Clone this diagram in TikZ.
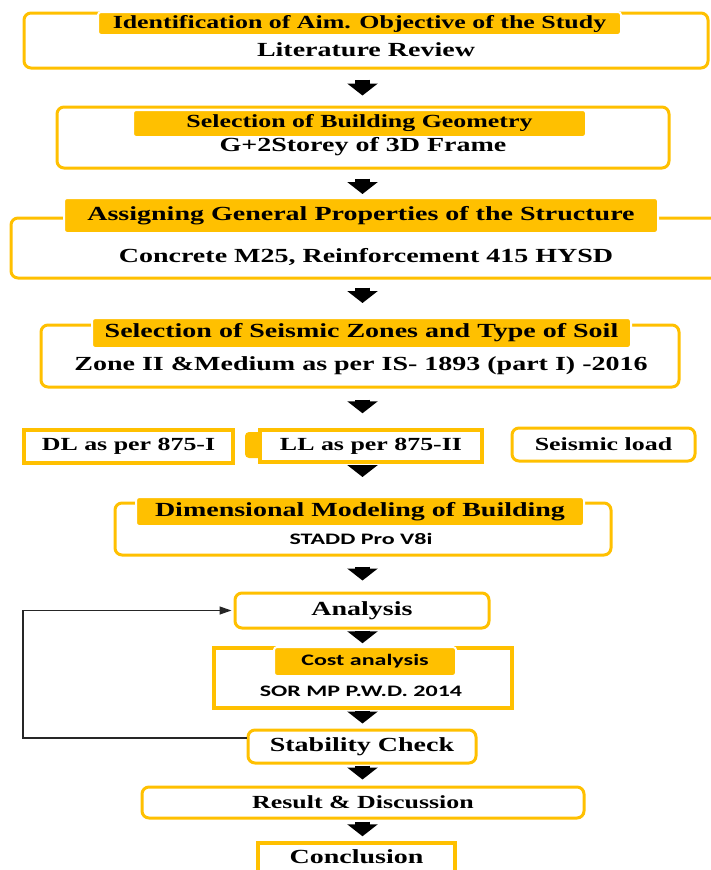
\documentclass[tikz,border=0pt]{standalone}
\usepackage{fontspec}
\setmainfont{Liberation Serif}[FakeStretch=1.4]
\newfontfamily\sansbody{Carlito}[FakeStretch=1.5]
\usetikzlibrary{arrows.meta,calc}
\definecolor{amber}{RGB}{255,192,0}
\newcommand{\sizea}{\fontsize{18.5}{21}\selectfont}
\newcommand{\sizeb}{\fontsize{20}{23}\selectfont}
\newcommand{\sizec}{\fontsize{16}{19}\selectfont}

\begin{document}
\begin{tikzpicture}[x=1pt,y=1pt,yscale=-1,
  frame/.style={draw=amber,line width=3pt,fill=white,rounded corners=7pt,inner sep=0pt},
  sqframe/.style={frame,rounded corners=0pt,line width=3.5pt},
  tagbox/.style={fill=amber,draw=white,line width=2pt,rounded corners=3pt,inner sep=0pt,font=\bfseries\sizeb},
  txt/.style={inner sep=0pt,font=\bfseries\sizeb},
  sanstxt/.style={inner sep=0pt,font=\sansbody\bfseries\sizec},
  blockarrow/.style={draw=black,line width=15pt,-{Triangle[width=30pt,length=12pt]}},
  loopline/.style={draw=black!85,line width=1.3pt,-{Triangle[width=8pt,length=12pt]}}
]
\useasboundingbox (0,0) rectangle (710,870);

%Shape: Rounded Rect [aim]
\node[frame,minimum width=684pt,minimum height=55pt] (aimbox) at (366,40.5) {};
\node[tagbox,minimum width=523pt,minimum height=23pt,font=\bfseries\sizea] (aimtag) at (359.5,23.5) {Identification of Aim. Objective of the Study};
% Text Node
\node[txt] (littxt) at (366,50) {Literature Review};

%Shape: Rounded Rect [geometry]
\node[frame,minimum width=612pt,minimum height=61pt] (geombox) at (363,137.5) {};
\node[tagbox,minimum width=453pt,minimum height=27pt,font=\bfseries\sizea] (geomtag) at (359.5,123.5) {Selection of Building Geometry};
% Text Node
\node[txt] (geomtxt) at (363,147) {G+2Storey of 3D Frame};

%Shape: Rounded Rect [properties]
\node[frame,minimum width=719pt,minimum height=60pt] (propbox) at (370.5,248) {};
\node[tagbox,minimum width=594pt,minimum height=35pt] (proptag) at (361,215.5) {Assigning General Properties of the Structure};
% Text Node
\node[txt] (proptxt) at (366,257) {Concrete M25, Reinforcement 415 HYSD};

%Shape: Rounded Rect [zones]
\node[frame,minimum width=638pt,minimum height=62pt] (zonebox) at (360,356) {};
\node[tagbox,minimum width=539pt,minimum height=30pt] (zonetag) at (361.5,333) {Selection of Seismic Zones and Type of Soil};
% Text Node
\node[txt] (zonetxt) at (361,366) {Zone II \&Medium as per IS- 1893 (part I) -2016};

%Shape: Loads
\node[sqframe,minimum width=209pt,minimum height=33pt,font=\bfseries\sizea] (dlbox) at (128.5,446.5) {DL as per 875-I};
\fill[amber,rounded corners=4pt] (245,432) rectangle (300,458);
\node[sqframe,minimum width=222pt,minimum height=32pt,font=\bfseries\sizea] (llbox) at (371,446) {LL as per 875-II};
\node[frame,minimum width=183pt,minimum height=33pt,font=\bfseries\sizea] (eqbox) at (603.5,444.5) {Seismic load};

%Shape: Rounded Rect [modeling]
\node[frame,minimum width=496pt,minimum height=52pt] (modelbox) at (363,529) {};
\node[tagbox,minimum width=448pt,minimum height=29pt] (modeltag) at (360,511.5) {Dimensional Modeling of Building};
% Text Node
\node[sanstxt] (modeltxt) at (361,539) {STADD Pro V8i};

%Shape: Analysis
\node[frame,minimum width=254pt,minimum height=35pt,font=\bfseries\sizeb] (analbox) at (362,610.5) {Analysis};

%Shape: Rect [cost]
\node[sqframe,minimum width=298pt,minimum height=60pt] (costbox) at (363,678) {};
\node[tagbox,minimum width=182pt,minimum height=29pt,font=\sansbody\bfseries\sizec] (costtag) at (365,661.5) {Cost analysis};
% Text Node
\node[sanstxt] (costtxt) at (361,691) {SOR MP P.W.D. 2014};

%Shape: Stability / Result / Conclusion
\node[frame,minimum width=228pt,minimum height=33pt,font=\bfseries\sizeb] (stabbox) at (362,746.5) {Stability Check};
\node[frame,minimum width=442pt,minimum height=31pt,font=\bfseries\sizea] (resbox) at (363,802.5) {Result \& Discussion};
\node[sqframe,minimum width=197pt,minimum height=46pt] (conbox) at (356.5,866) {};
% Text Node
\node[txt] (contxt) at (356.5,857) {Conclusion};

%Block Arrows
\coordinate (spine) at (362.5,0);
\draw[blockarrow,shorten <=10pt,shorten >=10pt] (aimbox.south -| spine) -- (geombox.north -| spine);
\draw[blockarrow,shorten <=9pt,shorten >=3pt] (geombox.south -| spine) -- (proptag.north -| spine);
\draw[blockarrow,shorten <=8pt,shorten >=14pt] (propbox.south -| spine) -- (zonetag.north -| spine);
\draw[blockarrow,shorten <=11pt,shorten >=15pt] (zonebox.south -| spine) -- (llbox.north -| spine);
\draw[blockarrow,shorten <=1pt,shorten >=19pt] (llbox.south -| spine) -- (modeltag.north -| spine);
\draw[blockarrow,shorten <=10pt,shorten >=11pt] (modelbox.south -| spine) -- (analbox.north -| spine);
\draw[blockarrow,shorten <=1pt,shorten >=3pt] (analbox.south -| spine) -- (costbox.north -| spine);
\draw[blockarrow,shorten <=1pt,shorten >=5pt] (costbox.south -| spine) -- (stabbox.north -| spine);
\draw[blockarrow,shorten <=1pt,shorten >=6pt] (stabbox.south -| spine) -- (resbox.north -| spine);
\draw[blockarrow,shorten <=2pt,shorten >=5pt] (resbox.south -| spine) -- (conbox.north -| spine);

%Feedback Line
\coordinate (loopfoot) at (23,738);
\draw[loopline,shorten >=2pt] (loopfoot -| stabbox.west) -- (loopfoot) |- (analbox.west);

\end{tikzpicture}
\end{document}
